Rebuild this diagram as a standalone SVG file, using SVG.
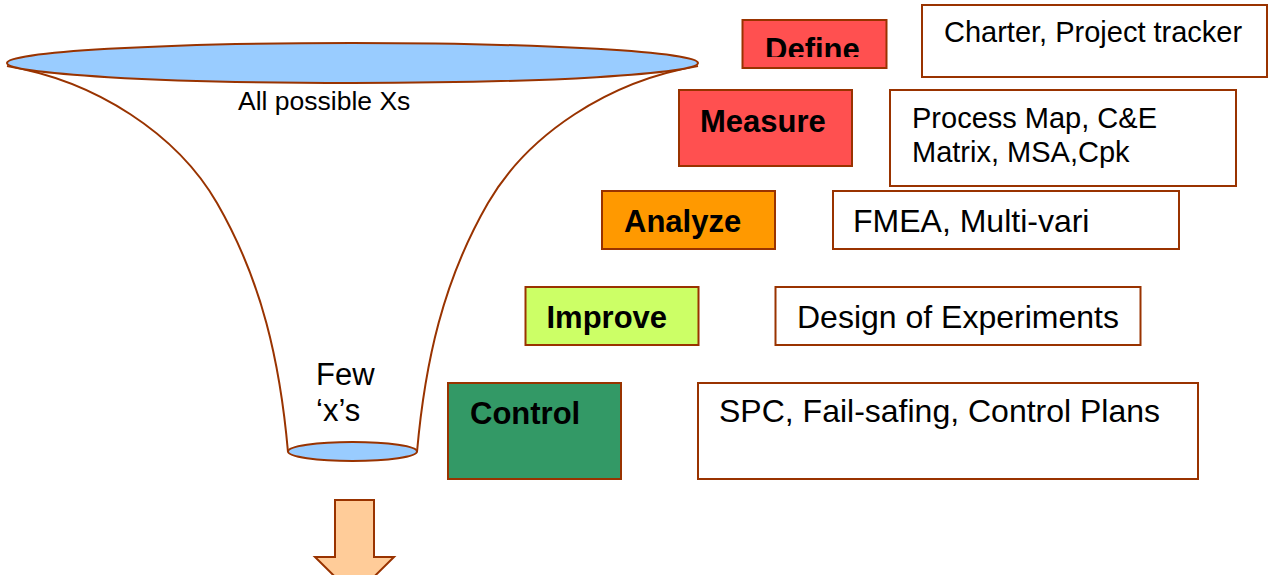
<svg xmlns="http://www.w3.org/2000/svg" width="1268" height="575" viewBox="0 0 1268 575">
<style>
.ol{stroke:#993300;stroke-width:2}
.tb{fill:#ffffff}
.lbl{font-family:"Liberation Sans",Arial,sans-serif;font-weight:bold;font-size:31px;fill:#000}
.txt{font-family:"Liberation Sans",Arial,sans-serif;font-size:32px;fill:#000}
.txs{font-family:"Liberation Sans",Arial,sans-serif;font-size:29px;fill:#000}
</style>
<defs>
<clipPath id="defclip"><rect x="742" y="20" width="145" height="37"/></clipPath>
</defs>
<g id="funnel">
<path class="ol" fill="none" d="M7 66 C96 81 177 134 217 203 C262 281 280 362 288 452"/>
<path class="ol" fill="none" d="M698 66 C609 81 528 134 488 203 C443 281 425 362 417 452"/>
<ellipse class="ol" cx="352.5" cy="63" rx="345.5" ry="20" fill="#99ccff"/>
<ellipse class="ol" cx="352.5" cy="451.5" rx="64.5" ry="9.5" fill="#99ccff"/>
<text x="238" y="110" font-family="Liberation Sans, Arial, sans-serif" font-size="26.5">All possible Xs</text>
<text x="316" y="385" font-family="Liberation Sans, Arial, sans-serif" font-size="31">Few</text>
<text x="316" y="421" font-family="Liberation Sans, Arial, sans-serif" font-size="31">‘x’s</text>
</g>
<g id="arrow">
<polygon class="ol" fill="#ffcc99" points="335,500 374,500 374,557 394,557 354.5,596 315,557 335,557"/>
</g>
<g id="define">
<rect class="ol" x="742.5" y="20" width="144" height="48" fill="#ff5050"/>
<text class="lbl" x="765" y="60" clip-path="url(#defclip)">Define</text>
</g>
<g id="define-tools">
<rect class="ol tb" x="922" y="5" width="345" height="72"/>
<text class="txs" x="944" y="42">Charter, Project tracker</text>
</g>
<g id="measure">
<rect class="ol" x="679" y="90" width="173" height="76" fill="#ff5050"/>
<text class="lbl" x="700" y="132">Measure</text>
</g>
<g id="measure-tools">
<rect class="ol tb" x="890" y="90" width="346" height="96"/>
<text class="txs" x="912" y="128">Process Map, C&amp;E</text>
<text class="txs" x="912" y="162">Matrix, MSA,Cpk</text>
</g>
<g id="analyze">
<rect class="ol" x="602" y="191" width="173" height="58" fill="#ff9900"/>
<text class="lbl" x="624" y="232">Analyze</text>
</g>
<g id="analyze-tools">
<rect class="ol tb" x="833" y="191" width="346" height="58"/>
<text class="txt" x="853" y="232">FMEA, Multi-vari</text>
</g>
<g id="improve">
<rect class="ol" x="525.5" y="287" width="173" height="58" fill="#ccff66"/>
<text class="lbl" x="546.5" y="328">Improve</text>
</g>
<g id="improve-tools">
<rect class="ol tb" x="775.5" y="287" width="365" height="58"/>
<text class="txt" x="797" y="328">Design of Experiments</text>
</g>
<g id="control">
<rect class="ol" x="448" y="383" width="173" height="96" fill="#339966"/>
<text class="lbl" x="470" y="424">Control</text>
</g>
<g id="control-tools">
<rect class="ol tb" x="698" y="383" width="500" height="96"/>
<text class="txt" x="719" y="422">SPC, Fail-safing, Control Plans</text>
</g>
<g id="connectors"></g>
</svg>
